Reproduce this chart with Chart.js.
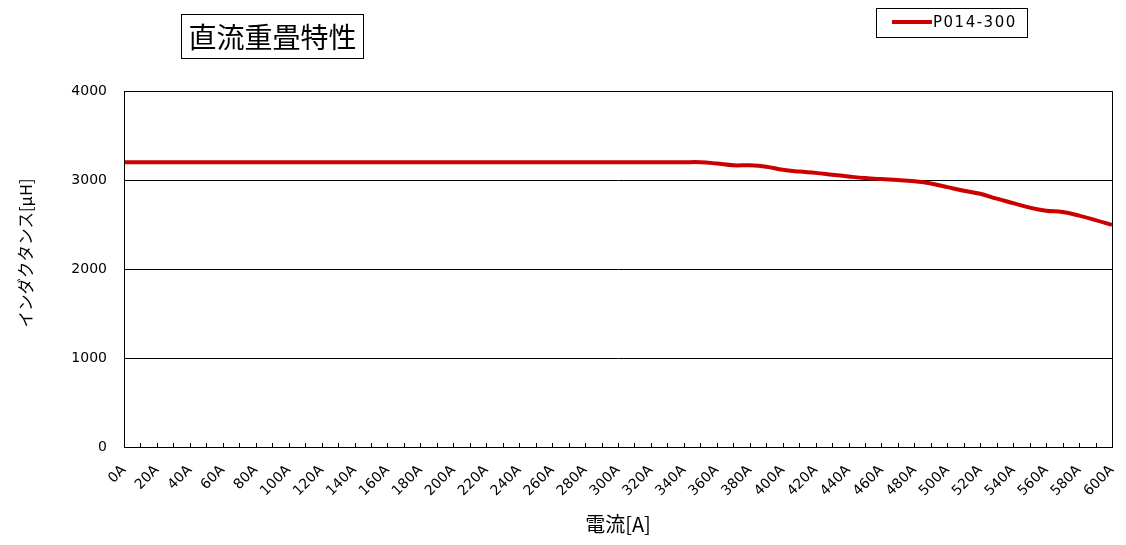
<!DOCTYPE html>
<html>
<head>
<meta charset="utf-8">
<script src="https://cdn.jsdelivr.net/npm/chart.js@4.4.1/dist/chart.umd.min.js"></script>
<style>
  html, body { margin: 0; padding: 0; background: #fff; }
  #wrap { position: relative; width: 1126px; height: 545px; }
</style>
</head>
<body>
<div id="wrap"><canvas id="c" width="1126" height="545"></canvas></div>
<script>
// ---- data ----
const chartTitle = '直流重畳特性';
const seriesName = 'P014-300';
const xTitle = '電流[A]';
const yTitle = 'インダクタンス[μH]';
const currents = [0,10,20,30,40,50,60,70,80,90,100,110,120,130,140,150,160,170,180,190,200,
  210,220,230,240,250,260,270,280,290,300,310,320,330,340,350,360,370,380,390,400,
  410,420,430,440,450,460,470,480,490,500,510,520,530,540,550,560,570,580,590,600];
const categories = currents.map(v => v + 'A');
const inductance = [
  3200,3200,3200,3200,3200,3200,3200,3200,3200,3200,3200,
  3200,3200,3200,3200,3200,3200,3200,3200,3200,3200,
  3200,3200,3200,3200,3200,3200,3200,3200,3200,3200,
  3200,3200,3200,3200,3200,3185,3165,3165,3150,3115,
  3095,3080,3060,3040,3022,3010,3000,2985,2960,2920,
  2880,2845,2790,2740,2690,2655,2640,2600,2550,2495
];
const yTicks = [0, 1000, 2000, 3000, 4000];

const decor = {
  id: 'decor',
  afterDraw(chart) {
    const ctx = chart.ctx;
    const a = chart.chartArea;
    const xs = chart.scales.x;
    ctx.save();
    // inward tick marks
    ctx.strokeStyle = '#000';
    ctx.lineWidth = 1;
    ctx.beginPath();
    for (let i = 0; i < categories.length; i++) {
      const px = Math.round(xs.getPixelForTick(i)) + 0.5;
      ctx.moveTo(px, a.bottom);
      ctx.lineTo(px, a.bottom - 4);
    }
    ctx.stroke();
    // plot border
    ctx.strokeRect(Math.round(a.left) + 0.5, Math.round(a.top) + 0.5, Math.round(a.right - a.left), Math.round(a.bottom - a.top));

    // title box
    ctx.strokeRect(181.5, 14.5, 182, 44);
    ctx.fillStyle = '#000';
    ctx.font = '28px "Noto Sans CJK JP"';
    ctx.textAlign = 'center';
    ctx.textBaseline = 'middle';
    ctx.fillText(chartTitle, 272.5, 37);

    // legend box
    const ds = chart.data.datasets[0];
    ctx.strokeRect(876.5, 8.5, 151, 29);
    ctx.strokeStyle = ds.borderColor;
    ctx.lineWidth = 4;
    ctx.beginPath();
    ctx.moveTo(892, 22);
    ctx.lineTo(932, 22);
    ctx.stroke();
    ctx.fillStyle = '#000';
    ctx.font = '15px "DejaVu Sans"';
    ctx.textAlign = 'left';
    ctx.letterSpacing = '1.5px';
    ctx.fillText(ds.label, 933, 23);
    ctx.letterSpacing = '0px';

    // y-axis title
    ctx.translate(26, 253);
    ctx.rotate(-Math.PI / 2);
    ctx.font = '16.5px "Noto Sans CJK JP"';
    ctx.textAlign = 'center';
    ctx.textBaseline = 'middle';
    ctx.fillText(yTitle, 0, 0);
    ctx.restore();
  }
};

new Chart(document.getElementById('c'), {
  type: 'line',
  data: {
    labels: categories,
    datasets: [{
      label: seriesName,
      data: inductance,
      borderColor: '#cc0000',
      borderWidth: 4,
      pointRadius: 0,
      tension: 0.4,
      fill: false
    }]
  },
  options: {
    responsive: false,
    animation: false,
    layout: { padding: { left: 0, right: 14, top: 91, bottom: 0 } },
    plugins: { legend: { display: false }, title: { display: false }, tooltip: { enabled: false } },
    scales: {
      x: {
        offset: false,
        grid: { display: true, drawOnChartArea: false, drawTicks: false, color: '#000' },
        border: { display: true, color: '#000', width: 1 },
        ticks: {
          autoSkip: false, maxRotation: 45, minRotation: 45, padding: 15,
          color: '#000', font: { family: 'DejaVu Sans', size: 14 },
          callback: (v, i) => (i % 2 === 0 ? categories[i] : '')
        },
        title: { display: true, text: xTitle, color: '#000', font: { family: 'Noto Sans CJK JP', size: 20 }, padding: { top: 0, bottom: 9 } },
        afterFit: s => { s.height = 98; s.paddingLeft = 0; s.paddingRight = 0; }
      },
      y: {
        min: 0, max: 4000,
        afterBuildTicks: s => { s.ticks = yTicks.map(v => ({ value: v })); },
        grid: { color: '#000', lineWidth: 1, drawTicks: false },
        border: { display: true, color: '#000', width: 1 },
        ticks: { padding: 17, color: '#000', font: { family: 'DejaVu Sans', size: 14 }, callback: v => String(v) },
        afterFit: s => { s.width = 124; s.paddingTop = 0; s.paddingBottom = 0; }
      }
    }
  },
  plugins: [decor]
});
</script>
</body>
</html>
